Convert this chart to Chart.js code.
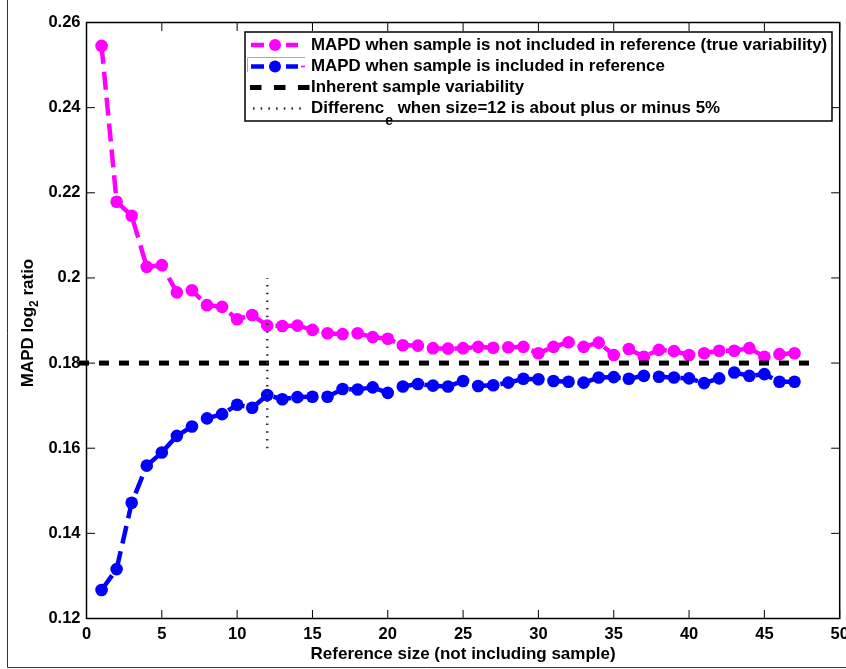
<!DOCTYPE html>
<html>
<head>
<meta charset="utf-8">
<script src="https://cdn.jsdelivr.net/npm/chart.js@4/dist/chart.umd.min.js"></script>
<style>
  html, body { margin: 0; padding: 0; background: #fff; }
  #wrap { width: 846px; height: 669px; }
</style>
</head>
<body>
<div id="wrap"><canvas id="chart" width="846" height="669"></canvas></div>
<script>
  // reference size (x) for both MAPD curves
  const refSize = [1, 2, 3, 4, 5, 6, 7, 8, 9, 10, 11, 12, 13, 14, 15, 16, 17, 18, 19, 20,
    21, 22, 23, 24, 25, 26, 27, 28, 29, 30, 31, 32, 33, 34, 35, 36, 37, 38, 39, 40,
    41, 42, 43, 44, 45, 46, 47];

  // MAPD when sample is not included in reference (magenta)
  const mapdExcluded = [0.2545, 0.2179, 0.2146, 0.2026, 0.2030, 0.1966, 0.1971, 0.1936, 0.1932, 0.1903,
    0.1913, 0.1888, 0.1887, 0.1888, 0.1878, 0.1870, 0.1868, 0.1870, 0.1861, 0.1857,
    0.1842, 0.1841, 0.1835, 0.1834, 0.1835, 0.1838, 0.1836, 0.1837, 0.1838, 0.1823,
    0.1838, 0.1849, 0.1838, 0.1848, 0.1819, 0.1833, 0.1815, 0.1831, 0.1828, 0.1819,
    0.1823, 0.1829, 0.1829, 0.1835, 0.1815, 0.1821, 0.1823];

  // MAPD when sample is included in reference (blue)
  const mapdIncluded = [0.1267, 0.1316, 0.1472, 0.1559, 0.1590, 0.1629, 0.1651, 0.1670, 0.1680, 0.1702,
    0.1695, 0.1725, 0.1715, 0.1720, 0.1721, 0.1721, 0.1739, 0.1738, 0.1743, 0.1730,
    0.1745, 0.1751, 0.1747, 0.1745, 0.1758, 0.1746, 0.1748, 0.1754, 0.1763, 0.1762,
    0.1758, 0.1756, 0.1754, 0.1766, 0.1767, 0.1763, 0.1770, 0.1768, 0.1766, 0.1764,
    0.1753, 0.1764, 0.1778, 0.1770, 0.1774, 0.1756, 0.1756];

  // inherent sample variability (black dashed)
  const inherentX = [-0.5, 48];
  const inherentY = [0.18, 0.18];

  // +/- 5% marker at size 12 (dotted)
  const diffX = [12, 12];
  const diffY = [0.16, 0.20];

  const xTicks = [0, 5, 10, 15, 20, 25, 30, 35, 40, 45, 50];
  const yTicks = [0.12, 0.14, 0.16, 0.18, 0.2, 0.22, 0.24, 0.26];

  const legendLabels = [
    "MAPD when sample is not included in reference (true variability)",
    "MAPD when sample is included in reference",
    "Inherent sample variability",
    "Differenc",
  ];
  const legendTail = " when size=12 is about plus or minus 5%";

  const FONT = "'Liberation Sans', Arial, Helvetica, sans-serif";
  const PINK = "#ff00ff", BLUE = "#0000ff";

  const pts = (xs, ys) => xs.map((x, i) => ({ x, y: ys[i] }));

  function line(ctx, x1, y1, x2, y2) {
    ctx.beginPath(); ctx.moveTo(x1, y1); ctx.lineTo(x2, y2); ctx.stroke();
  }

  const frame = {
    id: "frame",
    afterDraw(chart) {
      const ctx = chart.ctx;
      const { left, right, top, bottom } = chart.chartArea;
      const sx = chart.scales.x, sy = chart.scales.y;
      ctx.save();

      // figure border (left + bottom visible)
      ctx.strokeStyle = "#333"; ctx.lineWidth = 1;
      line(ctx, 7.5, 0, 7.5, 667.5);
      line(ctx, 7.5, 667.5, 846, 667.5);

      // axes box + inward ticks on all sides
      ctx.strokeStyle = "#000";
      ctx.lineWidth = 1;
      xTicks.forEach((v) => {
        const p = sx.getPixelForValue(v);
        line(ctx, p, bottom, p, bottom - 8.5);
        line(ctx, p, top, p, top + 8.5);
      });
      yTicks.forEach((v) => {
        const p = sy.getPixelForValue(v);
        line(ctx, left, p, left + 8.5, p);
        line(ctx, right, p, right - 8.5, p);
      });
      ctx.lineWidth = 1.5;
      ctx.strokeRect(left, top, right - left, bottom - top);

      // y axis title with subscript
      ctx.fillStyle = "#000";
      ctx.translate(33, 323);
      ctx.rotate(-Math.PI / 2);
      ctx.textBaseline = "alphabetic";
      const big = "bold 17px " + FONT, small = "bold 12px " + FONT;
      ctx.font = big;
      const a = "MAPD log", c = " ratio";
      const wa = ctx.measureText(a).width, wc = ctx.measureText(c).width;
      ctx.font = small;
      const wb = ctx.measureText("2").width;
      let x0 = -(wa + wb + wc) / 2;
      ctx.font = big; ctx.fillText(a, x0, 0);
      ctx.font = small; ctx.fillText("2", x0 + wa, 4.5);
      ctx.font = big; ctx.fillText(c, x0 + wa + wb, 0);
      ctx.restore();

      drawLegend(ctx);
    },
  };

  function drawLegend(ctx) {
    const L = 245, T = 32, R = 832, B = 121;
    const rows = [45, 66.5, 87.5, 108.5];
    const lf = "bold 16.9px " + FONT;
    ctx.save();
    ctx.fillStyle = "#fff";
    ctx.fillRect(L, T, R - L, B - T);

    // row 1 & 2: dashed line with marker
    [[PINK, rows[0]], [BLUE, rows[1]]].forEach(([col, y]) => {
      ctx.strokeStyle = col; ctx.lineWidth = 4.5; ctx.setLineDash([13, 22]);
      line(ctx, 251, y, 298, y);
      ctx.setLineDash([]);
      ctx.fillStyle = col;
      ctx.beginPath(); ctx.arc(275, y, 6, 0, Math.PI * 2); ctx.fill();
    });
    // rendering leftovers around the blue sample
    ctx.strokeStyle = "#aaa"; ctx.lineWidth = 1;
    line(ctx, 247.5, 58, 247.5, 72);
    line(ctx, 247.5, 57.5, 305, 57.5);
    ctx.strokeStyle = PINK; ctx.lineWidth = 1.5;
    line(ctx, 301, rows[1], 305, rows[1]);

    // row 3: black dashes
    ctx.strokeStyle = "#000"; ctx.lineWidth = 5; ctx.setLineDash([11.5, 12.5]);
    line(ctx, 250, rows[2], 309.5, rows[2]);

    // row 4: dotted
    ctx.strokeStyle = "#222"; ctx.lineWidth = 2.5; ctx.setLineDash([1.5, 6.2]);
    line(ctx, 253, rows[3], 302, rows[3]);
    ctx.setLineDash([]);

    // texts
    ctx.fillStyle = "#000";
    ctx.textBaseline = "middle";
    ctx.font = lf;
    legendLabels.forEach((t, i) => ctx.fillText(t, 311, rows[i]));
    const w = ctx.measureText(legendLabels[3]).width;
    ctx.font = "bold 14px " + FONT;
    ctx.fillText("e", 311 + w + 1, rows[3] + 13);
    const we = ctx.measureText("e").width;
    ctx.font = lf;
    ctx.fillText(legendTail, 311 + w + 1 + we, rows[3]);

    ctx.strokeStyle = "#000"; ctx.lineWidth = 1.5;
    ctx.strokeRect(L, T, R - L, B - T);
    ctx.restore();
  }

  new Chart(document.getElementById("chart").getContext("2d"), {
    type: "line",
    data: {
      datasets: [
        {
          label: legendLabels[0],
          data: pts(refSize, mapdExcluded),
          borderColor: PINK, backgroundColor: PINK,
          borderWidth: 4.5, borderDash: [18, 8],
          pointRadius: 6.3, pointBorderWidth: 0, pointBackgroundColor: PINK,
          tension: 0, order: 4,
        },
        {
          label: legendLabels[1],
          data: pts(refSize, mapdIncluded),
          borderColor: BLUE, backgroundColor: BLUE,
          borderWidth: 4.5, borderDash: [18, 8],
          pointRadius: 6.3, pointBorderWidth: 0, pointBackgroundColor: BLUE,
          tension: 0, order: 3,
        },
        {
          label: legendLabels[2],
          data: pts(inherentX, inherentY),
          borderColor: "#000", borderWidth: 5, borderDash: [10, 10],
          pointRadius: 0, tension: 0, order: 2, clip: false,
        },
        {
          label: "Difference",
          data: pts(diffX, diffY),
          borderColor: "#333", borderWidth: 2.5, borderDash: [1.5, 6.2],
          pointRadius: 0, tension: 0, order: 1,
        },
      ],
    },
    options: {
      responsive: false,
      animation: false,
      events: [],
      layout: { padding: { top: 22.5, right: 5, bottom: 0, left: 0 } },
      plugins: { legend: { display: false }, tooltip: { enabled: false } },
      scales: {
        x: {
          type: "linear", min: 0, max: 50,
          afterBuildTicks: (s) => { s.ticks = xTicks.map((v) => ({ value: v })); },
          afterFit: (s) => { s.height = 50.5; s.paddingLeft = 0; s.paddingRight = 0; },
          grid: { display: false, drawTicks: false },
          border: { display: false },
          ticks: {
            color: "#000", padding: 6, maxRotation: 0, autoSkip: false,
            font: { family: FONT, size: 16.5, weight: "bold" },
          },
          title: {
            display: true, text: "Reference size (not including sample)", color: "#000",
            font: { family: FONT, size: 17, weight: "bold" },
            padding: { top: 0, bottom: 4 },
          },
        },
        y: {
          type: "linear", min: 0.12, max: 0.26,
          afterBuildTicks: (s) => { s.ticks = yTicks.map((v) => ({ value: v })); },
          afterFit: (s) => { s.width = 86.5; s.paddingTop = 0; s.paddingBottom = 0; },
          grid: { display: false, drawTicks: false },
          border: { display: false },
          ticks: {
            color: "#000", padding: 6, autoSkip: false,
            font: { family: FONT, size: 16.5, weight: "bold" },
            callback: (v) => String(Number(v.toFixed(2))),
          },
        },
      },
    },
    plugins: [frame],
  });
</script>
</body>
</html>
